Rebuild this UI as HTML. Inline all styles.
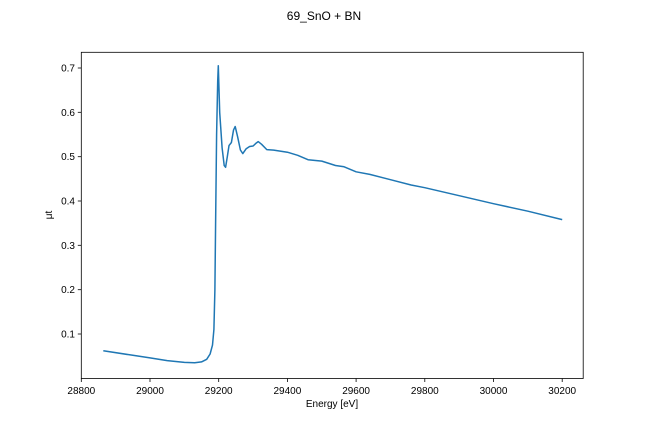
<!DOCTYPE html>
<html><head><meta charset="utf-8"><style>body{margin:0;background:#fff}</style></head><body>
<svg width="648" height="432" xmlns="http://www.w3.org/2000/svg" font-family="Liberation Sans, DejaVu Sans, sans-serif" font-size="10">
<rect width="648" height="432" fill="#fff"/>
<text x="324" y="20" text-anchor="middle" font-size="12">69_SnO + BN</text>
<polyline fill="none" stroke="#1f77b4" stroke-width="1.5" stroke-linejoin="round" points="103.3,350.8 132.8,355.3 150.0,357.9 167.2,360.6 184.4,362.4 194.7,362.8 201.5,361.9 206.7,359.3 210.1,354.0 212.5,345.1 213.9,329.6 214.9,289.7 215.6,223.2 216.6,134.5 217.7,81.3 218.3,65.8 219.7,112.4 222.1,147.8 224.2,165.5 225.6,167.3 227.3,156.7 229.0,145.6 231.4,142.5 233.5,130.1 235.2,126.5 237.6,136.7 240.4,150.0 242.8,153.6 246.2,148.7 249.6,146.5 253.1,146.0 255.8,143.4 258.2,141.6 261.6,144.3 266.8,149.6 273.7,150.1 287.4,152.2 297.7,155.3 308.0,159.7 321.8,161.1 335.5,165.5 344.1,166.8 356.1,171.8 369.8,174.4 390.5,179.7 411.1,185.0 424.8,187.7 459.2,195.7 493.5,203.7 527.9,211.2 562.2,219.6"/>
<rect x="81.3" y="52.3" width="501.9" height="326.2" fill="none" stroke="#000" stroke-width="0.8"/>
<g stroke="#000" stroke-width="0.8">
<line x1="81.3" y1="378.5" x2="81.3" y2="382"/><line x1="150" y1="378.5" x2="150" y2="382"/><line x1="218.7" y1="378.5" x2="218.7" y2="382"/><line x1="287.4" y1="378.5" x2="287.4" y2="382"/><line x1="356.1" y1="378.5" x2="356.1" y2="382"/><line x1="424.8" y1="378.5" x2="424.8" y2="382"/><line x1="493.5" y1="378.5" x2="493.5" y2="382"/><line x1="562.2" y1="378.5" x2="562.2" y2="382"/>
<line x1="77.8" y1="334" x2="81.3" y2="334"/><line x1="77.8" y1="289.7" x2="81.3" y2="289.7"/><line x1="77.8" y1="245.3" x2="81.3" y2="245.3"/><line x1="77.8" y1="201" x2="81.3" y2="201"/><line x1="77.8" y1="156.7" x2="81.3" y2="156.7"/><line x1="77.8" y1="112.3" x2="81.3" y2="112.3"/><line x1="77.8" y1="68" x2="81.3" y2="68"/>
</g>
<g text-anchor="middle">
<text x="81.3" y="394">28800</text><text x="150" y="394">29000</text><text x="218.7" y="394">29200</text><text x="287.4" y="394">29400</text><text x="356.1" y="394">29600</text><text x="424.8" y="394">29800</text><text x="493.5" y="394">30000</text><text x="562.2" y="394">30200</text>
</g>
<g text-anchor="end">
<text x="75" y="337.5">0.1</text><text x="75" y="293.2">0.2</text><text x="75" y="248.8">0.3</text><text x="75" y="204.5">0.4</text><text x="75" y="160.2">0.5</text><text x="75" y="115.8">0.6</text><text x="75" y="71.5">0.7</text>
</g>
<text x="332" y="407" text-anchor="middle">Energy [eV]</text>
<text transform="translate(52,215) rotate(-90)" text-anchor="middle">μt</text>
</svg>
</body></html>
